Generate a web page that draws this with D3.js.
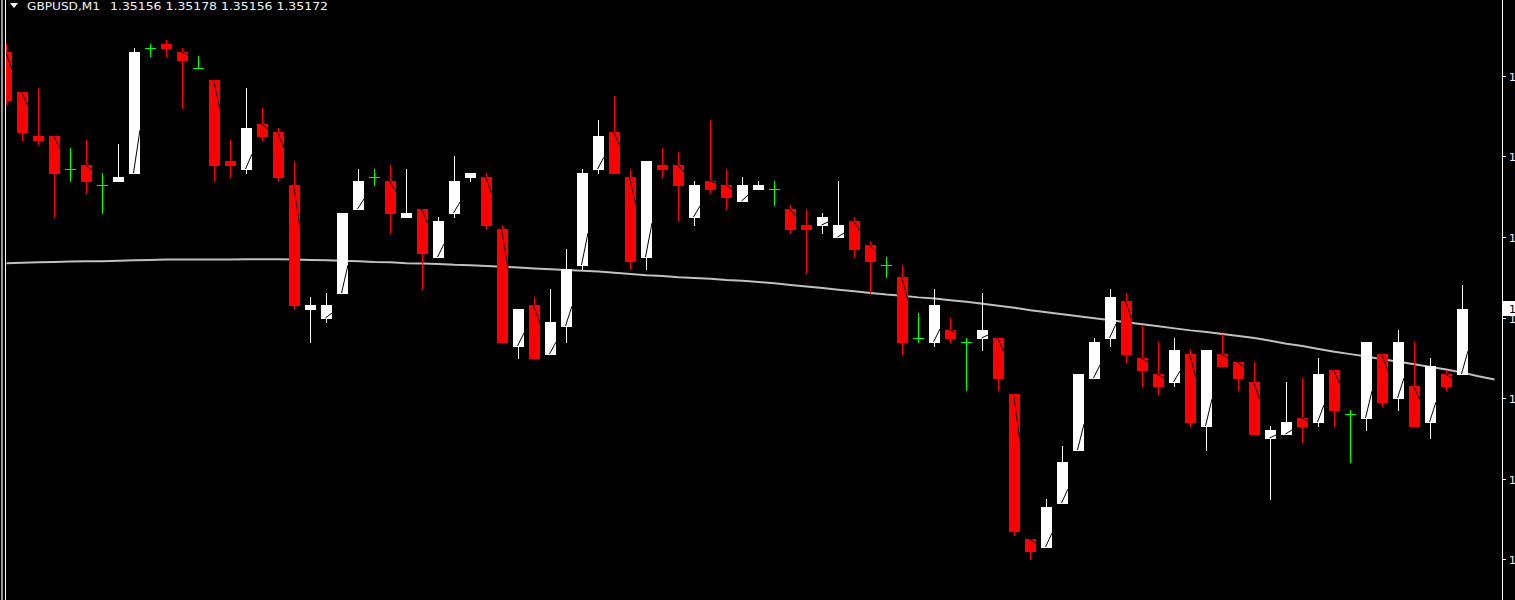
<!DOCTYPE html>
<html>
<head>
<meta charset="utf-8">
<title>GBPUSD,M1</title>
<style>
    body{ margin:0; background:#000; overflow:hidden; }
    svg{ display:block; }
    .lbl{ font-family:"DejaVu Sans", Tahoma, sans-serif; font-size:11px; fill:#f2f4f8; }
</style>
</head>
<body>
<script src="https://d3js.org/d3.v7.min.js"></script>
<script>
var width = 1515, height = 600;

var symbol = "GBPUSD,M1";
var lastQuote = "1.35156 1.35178 1.35156 1.35172";

// OHLC, one value per M1 bar
var open = [1.35236,1.35226,1.35215,1.35215,1.35207,1.35208,1.35203,1.35204,1.35206,1.35237,
            1.35238,1.35236,1.35232,1.35229,1.35209,1.35207,1.35218,1.35216,1.35203,1.35172,
            1.35170,1.35176,1.35197,1.35205,1.35204,1.35195,1.35197,1.35185,1.35196,1.35205,
            1.35205,1.35192,1.35163,1.35173,1.35161,1.35168,1.35183,1.35207,1.35216,1.35205,
            1.35185,1.35208,1.35208,1.35195,1.35204,1.35203,1.35199,1.35202,1.35202,1.35197,
            1.35193,1.35193,1.35190,1.35194,1.35188,1.35183,1.35180,1.35165,1.35164,1.35167,
            1.35164,1.35165,1.35165,1.35151,1.35115,1.35113,1.35124,1.35137,1.35155,1.35165,
            1.35174,1.35160,1.35156,1.35154,1.35161,1.35143,1.35161,1.35159,1.35154,1.35140,
            1.35141,1.35145,1.35144,1.35157,1.35146,1.35145,1.35161,1.35150,1.35153,1.35144,
            1.35156,1.35156];
var high = [1.35238,1.35226,1.35227,1.35215,1.35212,1.35214,1.35206,1.35213,1.35237,1.35238,
            1.35239,1.35237,1.35235,1.35229,1.35214,1.35227,1.35222,1.35217,1.35209,1.35175,
            1.35176,1.35196,1.35207,1.35207,1.35208,1.35207,1.35197,1.35195,1.35210,1.35206,
            1.35206,1.35193,1.35172,1.35175,1.35177,1.35187,1.35207,1.35219,1.35225,1.35207,
            1.35209,1.35212,1.35211,1.35204,1.35219,1.35207,1.35205,1.35204,1.35204,1.35198,
            1.35197,1.35196,1.35204,1.35195,1.35189,1.35185,1.35183,1.35171,1.35177,1.35170,
            1.35165,1.35176,1.35165,1.35151,1.35115,1.35125,1.35138,1.35156,1.35165,1.35177,
            1.35176,1.35168,1.35164,1.35165,1.35162,1.35162,1.35166,1.35159,1.35159,1.35143,
            1.35154,1.35155,1.35160,1.35157,1.35147,1.35164,1.35161,1.35167,1.35164,1.35160,
            1.35157,1.35178];
var low  = [1.35223,1.35214,1.35213,1.35195,1.35204,1.35201,1.35196,1.35204,1.35206,1.35235,
            1.35235,1.35222,1.35232,1.35204,1.35205,1.35206,1.35214,1.35204,1.35172,1.35164,
            1.35169,1.35176,1.35197,1.35203,1.35191,1.35195,1.35177,1.35185,1.35195,1.35204,
            1.35192,1.35164,1.35160,1.35160,1.35161,1.35164,1.35182,1.35206,1.35206,1.35182,
            1.35182,1.35205,1.35194,1.35193,1.35201,1.35197,1.35199,1.35202,1.35198,1.35191,
            1.35181,1.35191,1.35190,1.35185,1.35176,1.35180,1.35161,1.35164,1.35163,1.35164,
            1.35152,1.35162,1.35152,1.35116,1.35110,1.35113,1.35124,1.35137,1.35155,1.35163,
            1.35159,1.35153,1.35151,1.35153,1.35143,1.35137,1.35158,1.35152,1.35141,1.35125,
            1.35141,1.35139,1.35143,1.35143,1.35134,1.35142,1.35148,1.35147,1.35143,1.35140,
            1.35152,1.35156];
var close = [1.35224,1.35216,1.35214,1.35206,1.35207,1.35204,1.35203,1.35205,1.35236,1.35237,
            1.35237,1.35234,1.35232,1.35208,1.35208,1.35217,1.35215,1.35205,1.35173,1.35173,
            1.35173,1.35196,1.35204,1.35205,1.35196,1.35196,1.35186,1.35194,1.35204,1.35206,
            1.35193,1.35164,1.35172,1.35160,1.35169,1.35182,1.35206,1.35215,1.35206,1.35184,
            1.35209,1.35207,1.35203,1.35203,1.35202,1.35200,1.35203,1.35203,1.35202,1.35192,
            1.35192,1.35195,1.35193,1.35187,1.35184,1.35183,1.35164,1.35165,1.35173,1.35165,
            1.35164,1.35167,1.35155,1.35117,1.35112,1.35123,1.35134,1.35156,1.35164,1.35175,
            1.35161,1.35157,1.35153,1.35162,1.35144,1.35162,1.35158,1.35155,1.35141,1.35142,
            1.35144,1.35143,1.35156,1.35147,1.35146,1.35164,1.35149,1.35164,1.35143,1.35158,
            1.35153,1.35172];

// moving average, drawn with a 2 bar shift (so 2 more points than bars)
var ma = [1.351835,1.351836,1.351837,1.351838,1.351839,1.351840,1.351840,1.351841,1.351842,1.351843,
          1.351844,1.351844,1.351844,1.351844,1.351844,1.351845,1.351845,1.351845,1.351844,1.351843,
          1.351842,1.351841,1.351840,1.351838,1.351837,1.351835,1.351834,1.351833,1.351831,1.351830,
          1.351828,1.351826,1.351824,1.351822,1.351820,1.351818,1.351816,1.351814,1.351811,1.351808,
          1.351805,1.351803,1.351800,1.351798,1.351796,1.351793,1.351791,1.351788,1.351785,1.351781,
          1.351777,1.351773,1.351769,1.351765,1.351761,1.351757,1.351754,1.351750,1.351747,1.351743,
          1.351739,1.351734,1.351729,1.351724,1.351718,1.351713,1.351708,1.351703,1.351698,1.351693,
          1.351688,1.351683,1.351678,1.351673,1.351668,1.351664,1.351659,1.351654,1.351649,1.351642,
          1.351635,1.351629,1.351622,1.351615,1.351609,1.351603,1.351596,1.351590,1.351584,1.351577,
          1.351571,1.351563,1.351554,1.351546];

var priceTicks = [1.3523,1.3521,1.3519,1.3517,1.3515,1.3513,1.3511];

var svg = d3.select("body").append("svg")
            .attr("width", width)
            .attr("height", height)
            .style("background", "#000");

var x = d3.scaleLinear().domain([0, 91]).range([6.5, 6.5 + 16*91]);
var y = d3.scaleLinear().domain([1.3511, 1.3523]).range([559, 76]);
var bodyW = 11;

svg.append("clipPath").attr("id", "plot")
   .append("rect").attr("x", 6).attr("y", 0).attr("width", 1496).attr("height", height);

// window frame on the left
svg.append("rect").attr("x", 1).attr("y", 0).attr("width", 2).attr("height", height).attr("fill", "#9a9a9a");
svg.append("rect").attr("x", 5).attr("y", 0).attr("width", 1).attr("height", height).attr("fill", "#ffffff");

var plot = svg.append("g").attr("clip-path", "url(#plot)").attr("shape-rendering", "crispEdges");

var bars = d3.range(open.length).map(function(i){
    return {i:i, o:open[i], h:high[i], l:low[i], c:close[i]};
});

function colorOf(d){
    if (d.c > d.o) return "#ffffff";
    if (d.c < d.o) return "#ff0000";
    return "#00ff00";
}

// moving average under the candles
var maLine = d3.line()
    .x(function(d, i){ return x(i); })
    .y(function(d){ return y(d); });
plot.append("path")
    .datum(ma)
    .attr("d", maLine)
    .attr("fill", "none")
    .attr("stroke", "#c0c0c0")
    .attr("stroke-width", 2)
    .attr("shape-rendering", "auto");

// wicks
plot.selectAll(".wick").data(bars).enter().append("line")
    .attr("class", "wick")
    .attr("x1", function(d){ return x(d.i); })
    .attr("x2", function(d){ return x(d.i); })
    .attr("y1", function(d){ return Math.round(y(d.h)); })
    .attr("y2", function(d){ return Math.round(y(d.l)) + 1; })
    .attr("stroke", colorOf)
    .attr("stroke-width", 1);

// bodies
var real = bars.filter(function(d){ return d.c != d.o; });
plot.selectAll(".body").data(real).enter().append("rect")
    .attr("class", "body")
    .attr("x", function(d){ return x(d.i) - bodyW/2; })
    .attr("y", function(d){ return Math.round(y(Math.max(d.o, d.c))); })
    .attr("width", bodyW)
    .attr("height", function(d){ return Math.max(1, Math.round(y(Math.min(d.o, d.c))) - Math.round(y(Math.max(d.o, d.c))) + 1); })
    .attr("fill", colorOf);

// thin black trace inside the bodies
plot.selectAll(".trace").data(real.filter(function(d){ return Math.abs(y(d.o) - y(d.c)) > 8; }))
    .enter().append("line")
    .attr("class", "trace")
    .attr("x1", function(d){ return x(d.i) - 1; })
    .attr("y1", function(d){ return Math.round(y(d.o)); })
    .attr("x2", function(d){ return x(d.i) + bodyW/2; })
    .attr("y2", function(d){ return Math.round(y(d.o + (d.c - d.o)*0.35)); })
    .attr("stroke", "#000")
    .attr("stroke-width", 1)
    .attr("shape-rendering", "auto");

// doji crosses
var doji = bars.filter(function(d){ return d.c == d.o; });
plot.selectAll(".doji").data(doji).enter().append("line")
    .attr("class", "doji")
    .attr("x1", function(d){ return x(d.i) - bodyW/2; })
    .attr("x2", function(d){ return x(d.i) + bodyW/2; })
    .attr("y1", function(d){ return Math.round(y(d.o)) + 0.5; })
    .attr("y2", function(d){ return Math.round(y(d.o)) + 0.5; })
    .attr("stroke", "#00ff00")
    .attr("stroke-width", 1);

// price scale on the right
var axisX = 1502;
svg.append("line")
    .attr("x1", axisX + 0.5).attr("x2", axisX + 0.5)
    .attr("y1", 0).attr("y2", height)
    .attr("stroke", "#ffffff").attr("stroke-width", 1);

var ticks = svg.append("g").attr("shape-rendering", "crispEdges");
ticks.selectAll("line").data(priceTicks).enter().append("line")
    .attr("x1", axisX).attr("x2", axisX + 4)
    .attr("y1", function(d){ return Math.round(y(d)) + 0.5; })
    .attr("y2", function(d){ return Math.round(y(d)) + 0.5; })
    .attr("stroke", "#ffffff");
ticks.selectAll("text").data(priceTicks).enter().append("text")
    .attr("class", "lbl")
    .attr("x", 1509)
    .attr("y", function(d){ return Math.round(y(d)) + 5; })
    .text(function(d){ return d.toFixed(4); });

// current price marker
var last = close[close.length - 1];
svg.append("rect")
    .attr("x", 1503).attr("y", Math.round(y(last)) - 8)
    .attr("width", 60).attr("height", 15)
    .attr("fill", "#ffffff");
svg.append("text")
    .attr("class", "lbl")
    .attr("x", 1509)
    .attr("y", Math.round(y(last)) + 4)
    .style("fill", "#000")
    .text(last.toFixed(5));

// header
svg.append("path")
    .attr("d", "M10,3 L18,3 L14,8 Z")
    .attr("fill", "#ffffff");
svg.append("text").attr("class", "lbl")
    .attr("x", 27).attr("y", 10)
    .attr("textLength", 73).attr("lengthAdjust", "spacingAndGlyphs")
    .text(symbol);
svg.append("text").attr("class", "lbl")
    .attr("x", 110).attr("y", 10)
    .attr("textLength", 218).attr("lengthAdjust", "spacingAndGlyphs")
    .text(lastQuote);
</script>
</body>
</html>
